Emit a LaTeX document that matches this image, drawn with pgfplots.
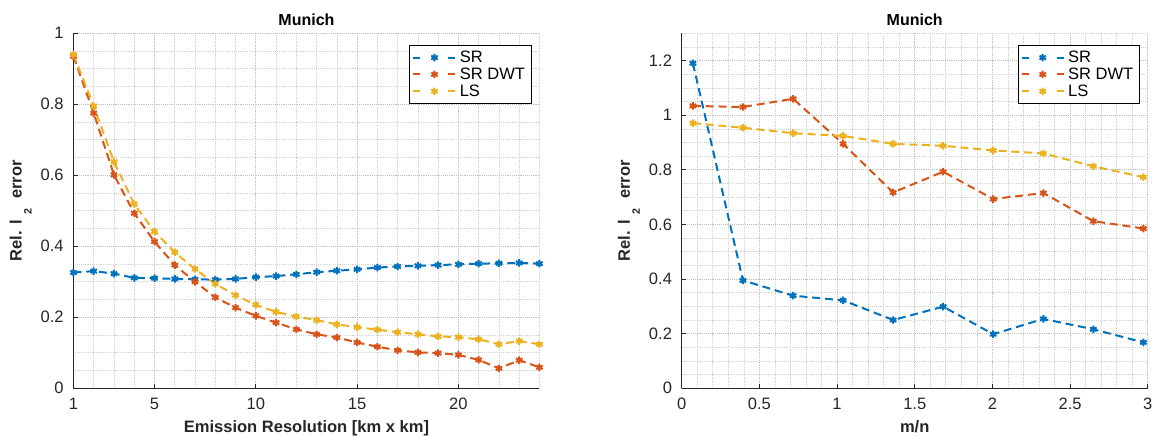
\documentclass[border=0pt]{standalone}
\usepackage{fontspec}
\setmainfont{Liberation Sans}
\usepackage{pgfplots}
\pgfplotsset{compat=1.18}

\definecolor{mblue}{rgb}{0,0.447,0.741}
\definecolor{morange}{rgb}{0.850,0.325,0.098}
\definecolor{myellow}{rgb}{0.929,0.694,0.125}
\definecolor{axgray}{gray}{0.15}

\newcommand{\relerr}{Rel. l\hspace{4pt}\raisebox{-7.5pt}{\fontsize{8}{8}\selectfont 2}\hspace{7.5pt}error}

\pgfplotsset{
  munich/.style={
    scale only axis, width=349.5pt, height=266.25pt,
    axis x line*=bottom, axis y line*=left,
    axis line style={axgray, line width=0.7pt},
    tick align=inside, major tick length=3.5pt, minor tick length=0pt,
    tick style={axgray, line width=0.7pt},
    grid=both,
    major grid style={densely dotted, gray!50, line width=0.5pt},
    minor grid style={densely dotted, gray!35, line width=0.5pt},
    /pgf/number format/assume math mode=true,
    ticklabel style={font=\fontsize{12.4}{14}\selectfont, text=axgray},
    xticklabel style={yshift=-4pt},
    yticklabel style={xshift=-3.8pt},
    title style={font=\bfseries\fontsize{12}{14}\selectfont, at={(0.5,1)}, anchor=base, yshift=-0.5pt},
    xlabel style={font=\bfseries\fontsize{12.4}{14}\selectfont, text=axgray, at={(0.5,0)}, anchor=base, yshift=-33pt},
    ylabel style={font=\bfseries\fontsize{12.4}{14}\selectfont, text=axgray, at={([xshift=-38.9pt]axis description cs:0,0.5)}, anchor=base},
    every axis plot/.append style={line width=1.5pt, dash pattern=on 6pt off 3.6pt,
      mark=asterisk, mark size=2.8pt, mark options={solid, line width=1.5pt}},
    legend image code/.code={
      \draw[#1, dash pattern=on 5.25pt off 21pt] (0pt,0pt) -- (31.5pt,0pt);
      \draw[#1, only marks] plot coordinates {(15.75pt,0pt)};
    },
    legend cell align=left,
    legend style={at={(1,1)}, anchor=north east, xshift=-6pt, yshift=-8.8pt,
      draw=black, line width=0.7pt, fill=white,
      font=\fontsize{12.4}{14}\selectfont, inner xsep=2pt, inner ysep=2pt,
      row sep=-1.5pt,
      nodes={inner xsep=2.5pt, inner ysep=2pt}},
  }
}

\begin{document}
\begin{tikzpicture}
% Error against emission resolution
\begin{axis}[munich, at={(0pt,0pt)}, anchor=south west,
  title={Munich},
  xlabel={Emission Resolution [km x km]},
  ylabel={\relerr},
  xmin=1, xmax=24, ymin=0, ymax=1,
  xtick={1,5,10,15,20}, minor xtick={2,3,4,6,7,8,9,11,12,13,14,16,17,18,19,21,22,23,24},
  ytick={0,0.2,0.4,0.6,0.8,1}, minor ytick={0.05,0.1,...,0.95},
  yticklabels={0,0.2,0.4,0.6,0.8,1},
]
\addplot[color=mblue] coordinates {
  (1,0.326) (2,0.330) (3,0.323) (4,0.311) (5,0.310) (6,0.308) (7,0.307) (8,0.306)
  (9,0.308) (10,0.313) (11,0.316) (12,0.321) (13,0.327) (14,0.331) (15,0.335) (16,0.340)
  (17,0.343) (18,0.345) (19,0.347) (20,0.349) (21,0.351) (22,0.352) (23,0.353) (24,0.351)};
\addplot[color=morange] coordinates {
  (1,0.935) (2,0.775) (3,0.601) (4,0.493) (5,0.413) (6,0.347) (7,0.300) (8,0.256)
  (9,0.227) (10,0.204) (11,0.185) (12,0.166) (13,0.152) (14,0.143) (15,0.129) (16,0.117)
  (17,0.107) (18,0.101) (19,0.099) (20,0.094) (21,0.080) (22,0.056) (23,0.079) (24,0.059)};
\addplot[color=myellow] coordinates {
  (1,0.940) (2,0.795) (3,0.638) (4,0.519) (5,0.441) (6,0.383) (7,0.336) (8,0.294)
  (9,0.262) (10,0.235) (11,0.215) (12,0.202) (13,0.192) (14,0.180) (15,0.172) (16,0.165)
  (17,0.158) (18,0.152) (19,0.146) (20,0.144) (21,0.138) (22,0.124) (23,0.133) (24,0.124)};
\legend{SR, SR DWT, LS}
\end{axis}

% Error against the ratio m/n
\begin{axis}[munich, at={(456.2pt,0pt)}, anchor=south west,
  title={Munich},
  xlabel={m/n},
  ylabel={\relerr},
  xmin=0, xmax=3, ymin=0, ymax=1.3,
  xtick={0,0.5,...,3}, minor xtick={0.1,0.2,...,2.95},
  ytick={0,0.2,...,1.2}, minor ytick={0.05,0.1,...,1.29},
  xticklabels={0,0.5,1,1.5,2,2.5,3},
  yticklabels={0,0.2,0.4,0.6,0.8,1,1.2},
]
\addplot[color=mblue] coordinates {
  (0.072,1.190) (0.394,0.395) (0.717,0.339) (1.039,0.322) (1.361,0.250)
  (1.683,0.299) (2.005,0.198) (2.328,0.254) (2.650,0.216) (2.972,0.168)};
\addplot[color=morange] coordinates {
  (0.072,1.034) (0.394,1.030) (0.717,1.060) (1.039,0.895) (1.361,0.717)
  (1.683,0.793) (2.005,0.693) (2.328,0.715) (2.650,0.612) (2.972,0.585)};
\addplot[color=myellow] coordinates {
  (0.072,0.971) (0.394,0.954) (0.717,0.934) (1.039,0.924) (1.361,0.895)
  (1.683,0.888) (2.005,0.871) (2.328,0.860) (2.650,0.813) (2.972,0.773)};
\legend{SR, SR DWT, LS}
\end{axis}

\pgfresetboundingbox
\useasboundingbox (-55.1pt,-35.8pt) rectangle (808.9pt,291.2pt);
\end{tikzpicture}
\end{document}
